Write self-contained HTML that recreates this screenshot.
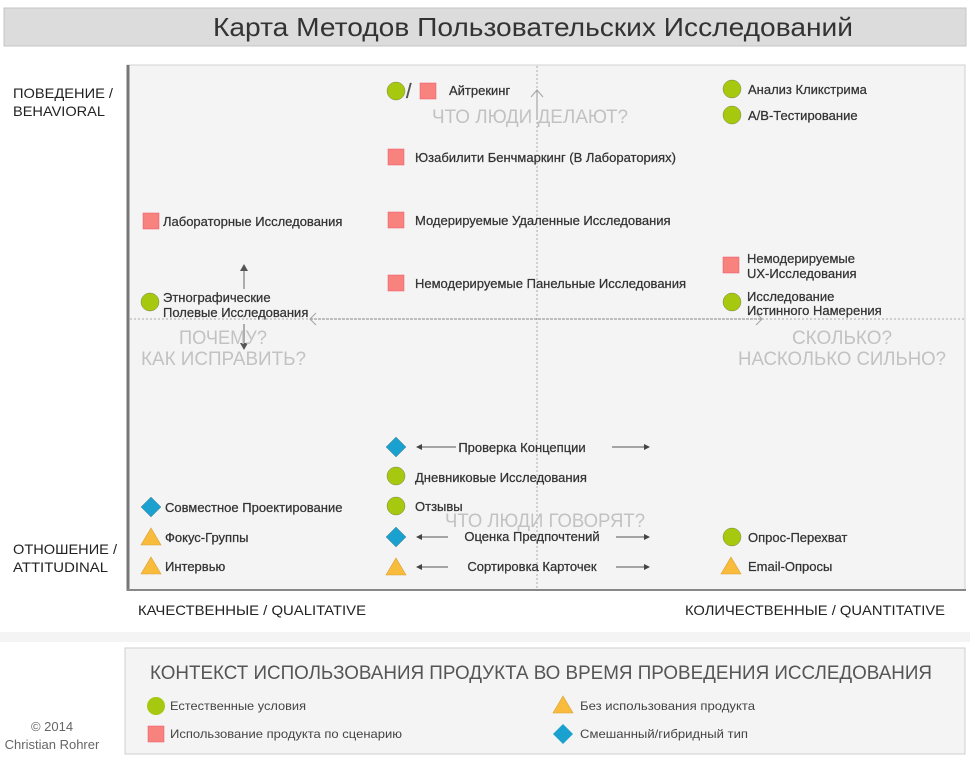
<!DOCTYPE html>
<html><head><meta charset="utf-8"><style>
html,body{margin:0;padding:0;background:#fff;width:970px;height:764px;overflow:hidden}
svg{display:block;font-family:"Liberation Sans","DejaVu Sans",sans-serif}
</style></head><body>
<svg width="970" height="764" viewBox="0 0 970 764" xmlns="http://www.w3.org/2000/svg">
<defs>
<g id="c"><circle r="9" fill="#a6c80f"/></g>
<g id="s"><rect x="-8" y="-8" width="16" height="16" fill="#f7827e" stroke="#e56" stroke-width="0.5"/></g>
<g id="d"><polygon points="0,-10 10,0 0,10 -10,0" fill="#1ba1cf"/></g>
<g id="t"><polygon points="0,-9 10,8 -10,8" fill="#f9bb3c" stroke="#d9a030" stroke-width="0.6"/></g>
</defs>
<rect x="4" y="8" width="962" height="38" fill="#dcdcdc" stroke="#c4c4c4"/>
<text x="533" y="36" text-anchor="middle" font-size="26" fill="#333" textLength="640" lengthAdjust="spacingAndGlyphs">Карта Методов Пользовательских Исследований</text>
<rect x="127" y="65" width="838" height="525" fill="#f4f4f4" stroke="#d0d0d0"/>
<line x1="128" y1="65" x2="128" y2="591" stroke="#777" stroke-width="3"/>
<line x1="127" y1="590" x2="966" y2="590" stroke="#888" stroke-width="2"/>
<line x1="537" y1="66" x2="537" y2="589" stroke="#aaa" stroke-dasharray="2,2"/>
<line x1="130" y1="319" x2="964" y2="319" stroke="#aaa" stroke-dasharray="2,2"/>
<line x1="310" y1="319" x2="762" y2="319" stroke="#888" stroke-dasharray="3,1"/>
<polyline points="316,313 310,319 316,325" fill="none" stroke="#aaa" stroke-width="1.2"/>
<polyline points="756,313 762,319 756,325" fill="none" stroke="#aaa" stroke-width="1.2"/>
<polyline points="531,97 537,90 543,97" fill="none" stroke="#aaa" stroke-width="1.2"/>
<line x1="537" y1="90" x2="537" y2="120" stroke="#999"/>
<line x1="244" y1="270" x2="244" y2="289" stroke="#666"/>
<polygon points="240,271 244,264 248,271" fill="#555"/>
<line x1="244" y1="324" x2="244" y2="344" stroke="#666"/>
<polygon points="240,343 244,350 248,343" fill="#555"/>
<g font-size="14" fill="#222">
<text x="13" y="98" textLength="100" lengthAdjust="spacingAndGlyphs">ПОВЕДЕНИЕ /</text>
<text x="13" y="116" textLength="92" lengthAdjust="spacingAndGlyphs">BEHAVIORAL</text>
<text x="13" y="554" textLength="104" lengthAdjust="spacingAndGlyphs">ОТНОШЕНИЕ /</text>
<text x="13" y="572" textLength="95" lengthAdjust="spacingAndGlyphs">ATTITUDINAL</text>
<text x="138" y="615" textLength="228" lengthAdjust="spacingAndGlyphs">КАЧЕСТВЕННЫЕ / QUALITATIVE</text>
<text x="945" y="615" text-anchor="end" textLength="260" lengthAdjust="spacingAndGlyphs">КОЛИЧЕСТВЕННЫЕ / QUANTITATIVE</text>
</g>
<g font-size="19" fill="#c2c2c2">
<text x="530" y="123" text-anchor="middle" textLength="196" lengthAdjust="spacingAndGlyphs">ЧТО ЛЮДИ ДЕЛАЮТ?</text>
<text x="223" y="344" text-anchor="middle" textLength="88" lengthAdjust="spacingAndGlyphs">ПОЧЕМУ?</text>
<text x="141" y="365" textLength="165" lengthAdjust="spacingAndGlyphs">КАК ИСПРАВИТЬ?</text>
<text x="892" y="344" text-anchor="end" textLength="100" lengthAdjust="spacingAndGlyphs">СКОЛЬКО?</text>
<text x="946" y="365" text-anchor="end" textLength="208" lengthAdjust="spacingAndGlyphs">НАСКОЛЬКО СИЛЬНО?</text>
<text x="545" y="527" text-anchor="middle" textLength="200" lengthAdjust="spacingAndGlyphs">ЧТО ЛЮДИ ГОВОРЯТ?</text>
</g>
<g font-size="13" fill="#333" stroke="#333" stroke-width="0.25">
<use href="#c" x="396" y="91"/><text x="406" y="98" font-size="20" fill="#555">/</text><use href="#s" x="428" y="91"/>
<text x="449" y="95">Айтрекинг</text>
<use href="#c" x="732" y="89"/><text x="748" y="94">Анализ Кликстрима</text>
<use href="#c" x="732" y="115"/><text x="748" y="120">A/B-Тестирование</text>
<use href="#s" x="396" y="157"/><text x="415" y="162">Юзабилити Бенчмаркинг (В Лабораториях)</text>
<use href="#s" x="151" y="221"/><text x="163" y="226">Лабораторные Исследования</text>
<use href="#s" x="396" y="220"/><text x="415" y="225">Модерируемые Удаленные Исследования</text>
<use href="#s" x="396" y="283"/><text x="415" y="288">Немодерируемые Панельные Исследования</text>
<use href="#s" x="731" y="265"/><text x="747" y="263">Немодерируемые</text><text x="747" y="278">UX-Исследования</text>
<use href="#c" x="150" y="302"/><text x="163" y="302">Этнографические</text><text x="163" y="317">Полевые Исследования</text>
<use href="#c" x="732" y="302"/><text x="747" y="301">Исследование</text><text x="747" y="315">Истинного Намерения</text>
<use href="#d" x="396" y="447"/><text x="522" y="452" text-anchor="middle">Проверка Концепции</text>
<use href="#c" x="396" y="476"/><text x="415" y="482">Дневниковые Исследования</text>
<use href="#d" x="151" y="507"/><text x="165" y="512">Совместное Проектирование</text>
<use href="#c" x="396" y="506"/><text x="415" y="511">Отзывы</text>
<use href="#t" x="151" y="537"/><text x="165" y="542">Фокус-Группы</text>
<use href="#d" x="396" y="537"/><text x="532" y="541" text-anchor="middle">Оценка Предпочтений</text>
<use href="#c" x="732" y="537"/><text x="748" y="542">Опрос-Перехват</text>
<use href="#t" x="151" y="566"/><text x="165" y="571">Интервью</text>
<use href="#t" x="396" y="567"/><text x="532" y="571" text-anchor="middle">Сортировка Карточек</text>
<use href="#t" x="731" y="566"/><text x="748" y="571">Email-Опросы</text>
</g>
<g stroke="#555" stroke-width="1">
<line x1="418" y1="447" x2="456" y2="447"/><line x1="612" y1="447" x2="648" y2="447"/>
<line x1="418" y1="537" x2="448" y2="537"/><line x1="616" y1="537" x2="648" y2="537"/>
<line x1="418" y1="567" x2="448" y2="567"/><line x1="616" y1="567" x2="648" y2="567"/>
</g>
<g fill="#444">
<polygon points="416,447 422,444 422,450"/><polygon points="650,447 644,444 644,450"/>
<polygon points="416,537 422,534 422,540"/><polygon points="650,537 644,534 644,540"/>
<polygon points="416,567 422,564 422,570"/><polygon points="650,567 644,564 644,570"/>
</g>
<rect x="0" y="632" width="970" height="10" fill="#f4f4f4"/>
<rect x="125" y="648" width="840" height="106" fill="#f4f4f4" stroke="#cfcfcf"/>
<text x="150" y="679" font-size="19" fill="#555" textLength="782" lengthAdjust="spacingAndGlyphs">КОНТЕКСТ ИСПОЛЬЗОВАНИЯ ПРОДУКТА ВО ВРЕМЯ ПРОВЕДЕНИЯ ИССЛЕДОВАНИЯ</text>
<g font-size="12" fill="#444">
<use href="#c" x="156" y="706"/><text x="170" y="710" textLength="136" lengthAdjust="spacingAndGlyphs">Естественные условия</text>
<use href="#s" x="156" y="734"/><text x="170" y="738" textLength="232" lengthAdjust="spacingAndGlyphs">Использование продукта по сценарию</text>
<use href="#t" x="563" y="705"/><text x="580" y="710" textLength="175" lengthAdjust="spacingAndGlyphs">Без использования продукта</text>
<use href="#d" x="563" y="734"/><text x="580" y="738" textLength="168" lengthAdjust="spacingAndGlyphs">Смешанный/гибридный тип</text>
</g>
<g font-size="13" fill="#666" text-anchor="middle">
<text x="52" y="731">© 2014</text>
<text x="52" y="749">Christian Rohrer</text>
</g>
</svg>
</body></html>
